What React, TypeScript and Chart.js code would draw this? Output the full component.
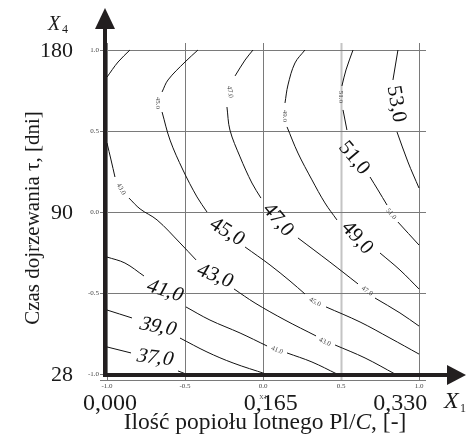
import React, { useEffect, useRef } from "react";
import { Chart, registerables } from "chart.js";
Chart.register(...registerables);

// coded axis ticks
const tickValues = [-1, -0.5, 0, 0.5, 1];
const tickLabels = ["-1.0", "-0.5", "0.0", "0.5", "1.0"];
// natural-unit labels
const xValueLabels = ["0,000", "0,165", "0,330"];
const xValueAt = [-0.98, 0.05, 0.88];
const yValueLabels = ["180", "90", "28"];
const yValueAt = [1, 0, -1];

// contour polylines (segments broken where the labels sit), coded units [x1, x4]
const contour37 = [
  [[-1.0, -0.833], [-0.846, -0.87]],
  [[-0.545, -0.981], [-0.494, -1.0]],
];
const contour39 = [
  [[-1.0, -0.605], [-0.84, -0.654]],
  [[-0.532, -0.778], [-0.359, -0.864], [-0.192, -0.932], [0.019, -1.0]],
];
const contour41 = [
  [[-1.0, -0.278], [-0.885, -0.315], [-0.763, -0.395]],
  [[-0.494, -0.586], [-0.34, -0.667], [-0.147, -0.747], [0.026, -0.827]],
  [[0.154, -0.87], [0.314, -0.926], [0.474, -1.0]],
];
const contour43 = [
  [[-0.853, 1.0], [-0.929, 0.926], [-1.0, 0.833]],
  [[-1.0, 0.426], [-0.974, 0.321], [-0.949, 0.216]],
  [[-0.859, 0.086], [-0.788, 0.019], [-0.679, -0.049], [-0.532, -0.191], [-0.429, -0.296]],
  [[-0.186, -0.475], [-0.051, -0.562], [0.141, -0.667], [0.34, -0.765]],
  [[0.462, -0.821], [0.654, -0.901], [0.846, -1.0]],
];
const contour45 = [
  [[-0.417, 1.0], [-0.5, 0.926], [-0.609, 0.815], [-0.647, 0.741]],
  [[-0.647, 0.617], [-0.596, 0.444], [-0.513, 0.259], [-0.423, 0.093], [-0.359, 0.0]],
  [[-0.115, -0.216], [0.045, -0.327], [0.173, -0.426], [0.269, -0.506]],
  [[0.404, -0.586], [0.622, -0.679], [0.814, -0.778], [1.0, -0.877]],
];
const contour47 = [
  [[-0.064, 1.0], [-0.115, 0.938], [-0.179, 0.84]],
  [[-0.231, 0.648], [-0.212, 0.506], [-0.147, 0.34], [-0.071, 0.179], [-0.013, 0.086]],
  [[0.224, -0.16], [0.429, -0.309], [0.609, -0.444]],
  [[0.718, -0.531], [0.878, -0.623], [1.0, -0.704]],
];
const contour49 = [
  [[0.269, 1.0], [0.205, 0.92], [0.16, 0.784], [0.141, 0.673]],
  [[0.154, 0.525], [0.224, 0.364], [0.314, 0.198], [0.397, 0.056], [0.474, -0.049]],
  [[0.75, -0.253], [0.878, -0.358], [1.0, -0.475]],
];
const contour51 = [
  [[0.577, 1.0], [0.532, 0.877], [0.506, 0.778]],
  [[0.513, 0.63], [0.538, 0.506]],
  [[0.686, 0.216], [0.737, 0.136], [0.795, 0.043]],
  [[0.865, -0.062], [1.0, -0.204]],
];
const contour53 = [
  [[0.865, 1.0], [0.833, 0.815]],
  [[0.859, 0.494], [0.929, 0.309], [1.0, 0.148]],
];
const allContours = [contour37, contour39, contour41, contour43, contour45, contour47, contour49, contour51, contour53];

// large contour labels
const bigLabelText = ["37,0", "39,0", "41,0", "43,0", "45,0", "47,0", "49,0", "51,0", "53,0"];
const bigLabelX = [-0.692, -0.673, -0.628, -0.308, -0.231, 0.096, 0.603, 0.583, 0.853];
const bigLabelY = [-0.901, -0.71, -0.488, -0.395, -0.123, -0.049, -0.16, 0.333, 0.667];
const bigLabelAngle = [7, 10, 18, 22, 32, 50, 48, 50, 80];
const bigLabelLean = [20, 24, 28, 30, 36, 50, 48, 50, 80];

// small contour labels
const smallLabelText = ["45.0", "47.0", "49.0", "51.0", "43.0", "51.0", "47.0", "45.0", "43.0", "41.0"];
const smallLabelX = [-0.673, -0.212, 0.141, 0.5, -0.91, 0.821, 0.667, 0.333, 0.397, 0.09];
const smallLabelY = [0.673, 0.741, 0.593, 0.71, 0.142, -0.012, -0.488, -0.556, -0.802, -0.852];
const smallLabelAngle = [90, 80, 90, 90, 60, 50, 35, 28, 25, 22];

const SERIF = '"Liberation Serif", "Times New Roman", serif';
const rad = (d: number) => (d * Math.PI) / 180;

const decor = {
  id: "decor",
  beforeDatasetsDraw(chart: any) {
    const { ctx, scales } = chart;
    const xs = scales.x, ys = scales.y;
    const L = xs.getPixelForValue(-1), R = xs.getPixelForValue(1);
    const T = ys.getPixelForValue(1), B = ys.getPixelForValue(-1);
    ctx.save();
    tickValues.forEach((v) => {
      const px = Math.round(xs.getPixelForValue(v)) + 0.5;
      const light = v === 0.5;
      ctx.strokeStyle = light ? "#c4c4c4" : "#7a7a7a";
      ctx.lineWidth = light ? 2 : 1;
      ctx.beginPath();
      ctx.moveTo(px, T - 7);
      ctx.lineTo(px, B + 7);
      ctx.stroke();
    });
    tickValues.forEach((v) => {
      const py = Math.round(ys.getPixelForValue(v)) + 0.5;
      ctx.strokeStyle = "#7a7a7a";
      ctx.lineWidth = 1;
      ctx.beginPath();
      ctx.moveTo(L - 7, py);
      ctx.lineTo(R + 7, py);
      ctx.stroke();
    });
    ctx.strokeStyle = "#7a7a7a";
    ctx.beginPath();
    ctx.moveTo(L - 7, B + 6.5);
    ctx.lineTo(R + 7, B + 6.5);
    ctx.stroke();
    ctx.restore();
  },
  afterDatasetsDraw(chart: any) {
    const { ctx, scales } = chart;
    const xs = scales.x, ys = scales.y;
    const L = xs.getPixelForValue(-1);
    const B = ys.getPixelForValue(-1);
    ctx.save();

    // small contour labels
    ctx.fillStyle = "#444";
    ctx.font = `7px ${SERIF}`;
    ctx.textAlign = "center";
    ctx.textBaseline = "middle";
    smallLabelText.forEach((t, i) => {
      ctx.save();
      ctx.translate(xs.getPixelForValue(smallLabelX[i]), ys.getPixelForValue(smallLabelY[i]));
      ctx.rotate(rad(smallLabelAngle[i]));
      ctx.fillText(t, 0, 0);
      ctx.restore();
    });

    // big contour labels
    ctx.fillStyle = "#111";
    ctx.font = `21px ${SERIF}`;
    bigLabelText.forEach((t, i) => {
      const a = rad(bigLabelAngle[i]), b = rad(bigLabelLean[i]);
      ctx.save();
      ctx.translate(xs.getPixelForValue(bigLabelX[i]), ys.getPixelForValue(bigLabelY[i]));
      ctx.transform(Math.cos(a), Math.sin(a), -Math.sin(b), Math.cos(b), 0, 0);
      ctx.fillText(t, 0, 0);
      ctx.restore();
    });

    // thick arrow axes
    const ax = L - 2, ay = B + 1;
    ctx.fillStyle = "#231f20";
    ctx.fillRect(ax - 2, 29, 4, ay + 2 - 29);
    ctx.fillRect(ax - 2, ay - 2, 447 - (ax - 2), 4);
    ctx.beginPath();
    ctx.moveTo(ax - 10, 29);
    ctx.lineTo(ax + 10, 29);
    ctx.lineTo(ax, 8);
    ctx.closePath();
    ctx.fill();
    ctx.beginPath();
    ctx.moveTo(447, ay - 10);
    ctx.lineTo(447, ay + 10);
    ctx.lineTo(466, ay);
    ctx.closePath();
    ctx.fill();

    // small coded tick labels
    ctx.fillStyle = "#444";
    ctx.font = `7px ${SERIF}`;
    ctx.textAlign = "center";
    ctx.textBaseline = "middle";
    tickValues.forEach((v, i) => {
      ctx.fillText(tickLabels[i], xs.getPixelForValue(v), B + 12);
    });
    ctx.textAlign = "right";
    tickValues.forEach((v, i) => {
      ctx.fillText(tickLabels[i], L - 8, ys.getPixelForValue(v));
    });
    ctx.textAlign = "center";
    ctx.font = `6px ${SERIF}`;
    ctx.fillText("X1", xs.getPixelForValue(0), B + 23);

    // natural value labels
    ctx.fillStyle = "#1a1a1a";
    ctx.font = `24px ${SERIF}`;
    ctx.textAlign = "center";
    ctx.textBaseline = "alphabetic";
    xValueLabels.forEach((t, i) => {
      ctx.fillText(t, xs.getPixelForValue(xValueAt[i]), 410);
    });
    ctx.font = `22px ${SERIF}`;
    ctx.textAlign = "right";
    ctx.textBaseline = "middle";
    yValueLabels.forEach((t, i) => {
      ctx.fillText(t, 73, ys.getPixelForValue(yValueAt[i]) + 1);
    });

    // axis symbols
    ctx.textAlign = "left";
    ctx.textBaseline = "alphabetic";
    ctx.font = `italic 20px ${SERIF}`;
    ctx.fillText("X", 48, 30);
    ctx.font = `12px ${SERIF}`;
    ctx.fillText("4", 62, 33);
    ctx.font = `italic 24px ${SERIF}`;
    ctx.fillText("X", 444, 408);
    ctx.font = `12px ${SERIF}`;
    ctx.fillText("1", 460, 412);

    // axis titles
    const FS = 23.5;
    const part1 = "Ilość popiołu lotnego Pl/";
    const part2 = "C";
    const part3 = ", [-]";
    ctx.font = `${FS}px ${SERIF}`;
    const w1 = ctx.measureText(part1).width;
    const w3 = ctx.measureText(part3).width;
    ctx.font = `italic ${FS}px ${SERIF}`;
    const w2 = ctx.measureText(part2).width;
    let sx = 265 - (w1 + w2 + w3) / 2;
    ctx.font = `${FS}px ${SERIF}`;
    ctx.fillText(part1, sx, 429);
    sx += w1;
    ctx.font = `italic ${FS}px ${SERIF}`;
    ctx.fillText(part2, sx, 429);
    sx += w2;
    ctx.font = `${FS}px ${SERIF}`;
    ctx.fillText(part3, sx, 429);

    ctx.save();
    ctx.translate(39, 218);
    ctx.rotate(-Math.PI / 2);
    ctx.textAlign = "center";
    ctx.font = `21px ${SERIF}`;
    ctx.fillText("Czas dojrzewania τ, [dni]", 0, 0);
    ctx.restore();

    ctx.restore();
  },
};

export default function App() {
  const ref = useRef<HTMLCanvasElement>(null);
  useEffect(() => {
    const canvas = ref.current!;
    const datasets: any[] = [];
    allContours.forEach((c) =>
      c.forEach((seg) =>
        datasets.push({
          data: seg.map(([x, y]) => ({ x, y })),
          showLine: true,
          borderColor: "#111",
          borderWidth: 1,
          pointRadius: 0,
          tension: 0.35,
          fill: false,
          clip: 3,
        })
      )
    );
    const chart = new Chart(canvas, {
      type: "scatter",
      data: { datasets },
      options: {
        animation: false,
        responsive: false,
        devicePixelRatio: 1,
        events: [],
        layout: { padding: { left: 107, right: 51, top: 50, bottom: 63 } },
        scales: {
          x: { type: "linear", min: -1, max: 1, display: false },
          y: { type: "linear", min: -1, max: 1, display: false },
        },
        plugins: { legend: { display: false }, tooltip: { enabled: false } },
      },
      plugins: [decor],
    } as any);
    return () => chart.destroy();
  }, []);
  return (
    <div style={{ position: "absolute", left: 0, top: 0, width: 470, height: 437, background: "#fff" }}>
      <canvas ref={ref} width={470} height={437} style={{ display: "block" }} />
    </div>
  );
}
